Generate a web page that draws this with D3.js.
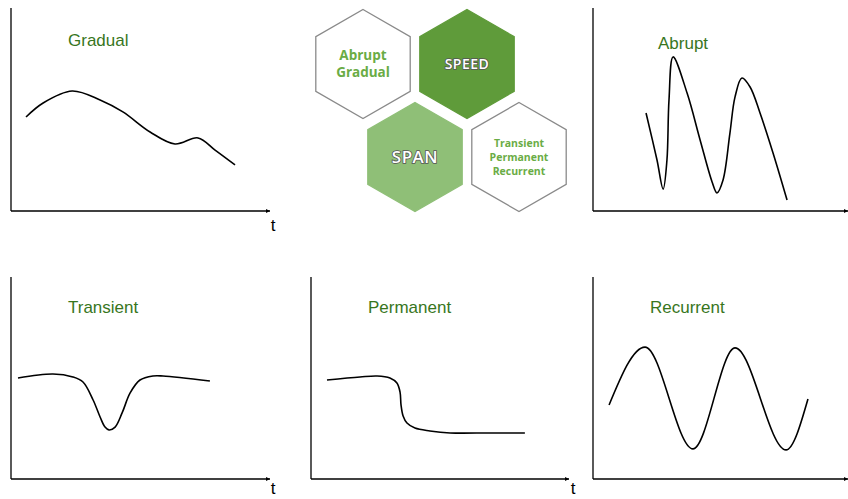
<!DOCTYPE html>
<meta charset="utf-8">
<style>
  body, html { margin: 0; padding: 0; background: #fff; }
  svg { display: block; }
  .title { font: 17px "Liberation Sans", Arial, sans-serif; fill: #38761d; }
  .tlab { font: 17px "Liberation Sans", Arial, sans-serif; fill: #000; }
  .hexlab { font-family: "Open Sans", sans-serif; font-weight: 700; fill: #6aac45; text-anchor: middle; }
  .hexbig { font-family: "Open Sans", sans-serif; font-weight: 600; fill: #fff; stroke: #555; stroke-width: 1.6px; paint-order: stroke; text-anchor: middle; letter-spacing: 0.5px; }
</style>
<body>
<svg width="848" height="499"></svg>
<script src="https://d3js.org/d3.v7.min.js"></script>
<script>
var svg = d3.select("svg");

// series, [t, value] on a 0..100 scale for both axes
var gradual = [[5.8,46.3],[12.4,53.2],[23.6,59.1],[34.4,54.7],[43.2,48.8],[53.7,38.9],[63.3,33.0],[72.2,36.0],[78.8,30.0],[86.5,22.7]];
var abrupt = [[20.8,48.3],[25.1,25.1],[27.5,10.8],[29.0,25.1],[29.8,54.7],[31.4,75.9],[36.9,58.1],[42.0,35.0],[46.7,14.3],[48.6,8.9],
              [51.0,15.3],[53.7,38.4],[55.7,56.2],[58.4,65.5],[61.6,61.1],[65.5,48.3],[70.6,28.6],[76.1,5.4]];
var transient = [[2.7,50.0],[16.2,52.0],[23.9,50.5],[27.8,48.0],[31.7,39.1],[34.4,30.7],[36.3,25.7],[37.8,24.3],[40.2,25.7],
                 [42.9,32.7],[46.0,42.6],[49.8,49.0],[54.8,51.0],[58.7,51.0],[76.8,48.5]];
var permanent = [[6.2,49.0],[19.0,50.5],[25.6,51.0],[30.6,50.0],[33.3,47.5],[34.5,43.1],[34.9,36.6],[35.7,31.2],[37.2,27.7],
                 [40.3,25.2],[46.1,23.8],[53.9,22.8],[69.4,22.8],[82.9,22.8]];
var recurrent = [[6.3,36.6],[20.4,65.3],[39.2,14.9],[55.7,64.9],[75.7,14.4],[84.3,39.6]];

var titles = ["Gradual", "Abrupt", "Transient", "Permanent", "Recurrent"];
var axisLabels = ["t", "", "t", "t", ""];

var hexLabels = [["Abrupt", "Gradual"], ["SPEED"], ["SPAN"], ["Transient", "Permanent", "Recurrent"]];

// panel layout (pixels)
var panels = [
  {x0: 11,  x1: 270, y0: 211, y1: 8,   data: gradual,   curve: d3.curveCatmullRom, tx: 68,  ty: 46, lx: 273, ly: 231},
  {x0: 593, x1: 848, y0: 211, y1: 8,   data: abrupt,    curve: d3.curveCatmullRom, tx: 658, ty: 49},
  {x0: 11,  x1: 270, y0: 479, y1: 277, data: transient, curve: d3.curveCatmullRom, tx: 68,  ty: 313, lx: 273, ly: 494},
  {x0: 311, x1: 569, y0: 479, y1: 277, data: permanent, curve: d3.curveCatmullRom, tx: 368, ty: 313, lx: 573, ly: 494},
  {x0: 593, x1: 848, y0: 479, y1: 277, data: recurrent, curve: d3.curveMonotoneX,  tx: 650, ty: 313}
];

svg.append("defs").append("marker")
    .attr("id", "arrow")
    .attr("viewBox", "0 0 10 10")
    .attr("refX", 10).attr("refY", 5)
    .attr("markerWidth", 5).attr("markerHeight", 4)
    .attr("markerUnits", "userSpaceOnUse")
    .attr("orient", "auto")
  .append("path")
    .attr("d", "M0,0L10,5L0,10z")
    .attr("fill", "#000");

panels.forEach(function(p, i) {
  var x = d3.scaleLinear().domain([0, 100]).range([p.x0, p.x1]);
  var y = d3.scaleLinear().domain([0, 100]).range([p.y0, p.y1]);
  var g = svg.append("g");

  g.append("line")
      .attr("x1", x(0)).attr("y1", y(0)).attr("x2", x(0)).attr("y2", y(100))
      .attr("stroke", "#000").attr("stroke-width", 1.3);
  g.append("line")
      .attr("x1", x(0)).attr("y1", y(0)).attr("x2", x(100)).attr("y2", y(0))
      .attr("stroke", "#000").attr("stroke-width", 1.3)
      .attr("marker-end", "url(#arrow)");

  var line = d3.line()
      .x(function(d) { return x(d[0]); })
      .y(function(d) { return y(d[1]); })
      .curve(p.curve);

  g.append("path")
      .datum(p.data)
      .attr("d", line)
      .attr("fill", "none")
      .attr("stroke", "#000")
      .attr("stroke-width", 1.6);

  g.append("text").attr("class", "title")
      .attr("x", p.tx).attr("y", p.ty)
      .text(titles[i]);

  if (axisLabels[i]) {
    g.append("text").attr("class", "tlab")
        .attr("x", p.lx).attr("y", p.ly)
        .attr("text-anchor", "middle")
        .text(axisLabels[i]);
  }
});

// hexagons
var hexes = [
  {cx: 363, cy: 64,  fill: "#fff",    stroke: "#8a8a8a"},
  {cx: 467, cy: 64,  fill: "#5f9b3a", stroke: "#5f9b3a"},
  {cx: 415, cy: 157, fill: "#8fbf77", stroke: "#8fbf77"},
  {cx: 519, cy: 157, fill: "#fff",    stroke: "#8a8a8a"}
];
var r = 54.5;
var hexPath = d3.line();

hexes.forEach(function(h, i) {
  var pts = d3.range(6).map(function(k) {
    var a = Math.PI / 3 * k - Math.PI / 2;
    return [h.cx + r * Math.cos(a), h.cy + r * Math.sin(a)];
  });
  svg.append("path")
      .attr("d", hexPath(pts) + "Z")
      .attr("fill", h.fill)
      .attr("stroke", h.stroke)
      .attr("stroke-width", 1.3);

  var lines = hexLabels[i];
  if (lines.length == 1) {
    svg.append("text").attr("class", "hexbig")
        .attr("x", h.cx).attr("y", h.cy)
        .attr("dy", "0.36em")
        .style("font-size", i == 1 ? "14px" : "17px")
        .text(lines[0]);
  } else {
    var fs = lines.length == 2 ? 13.5 : 10.5;
    var lh = lines.length == 2 ? 17 : 14;
    lines.forEach(function(t, k) {
      svg.append("text").attr("class", "hexlab")
          .attr("x", h.cx)
          .attr("y", h.cy + (k - (lines.length - 1) / 2) * lh)
          .attr("dy", "0.36em")
          .style("font-size", fs + "px")
          .text(t);
    });
  }
});
</script>
</body>
